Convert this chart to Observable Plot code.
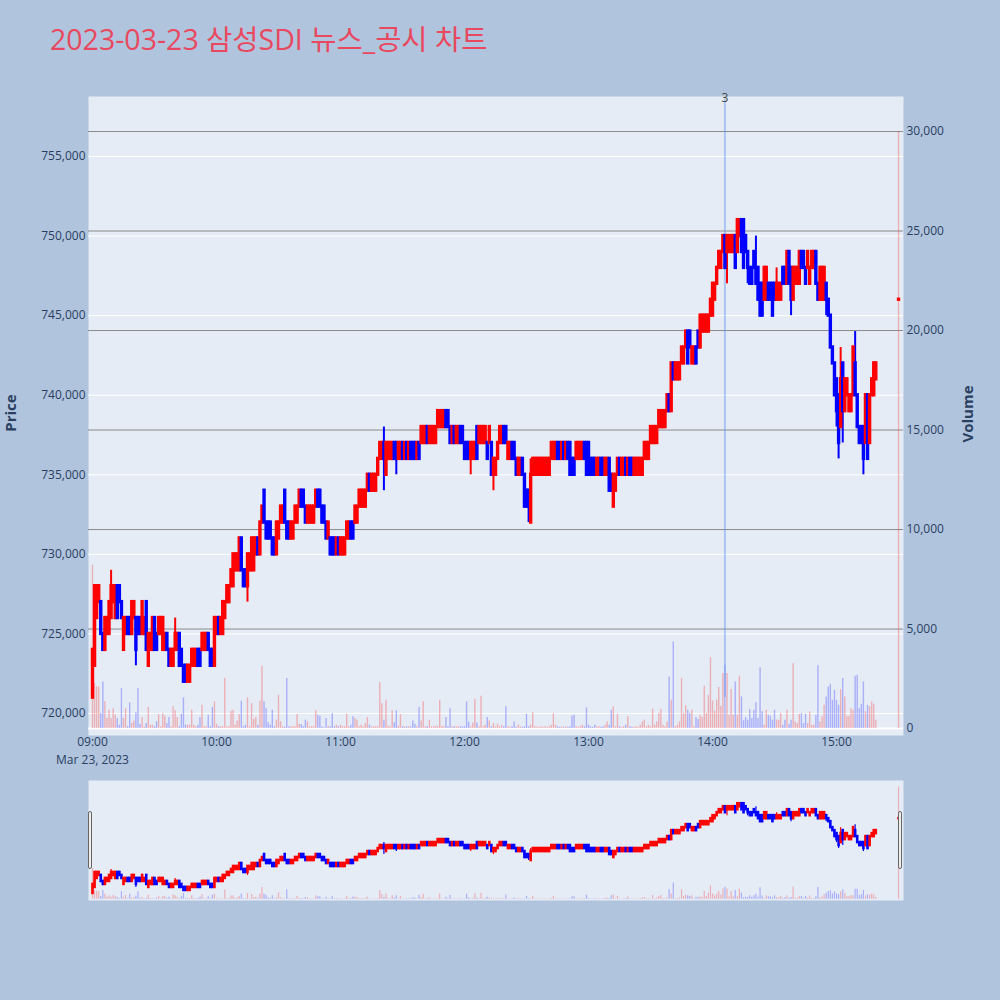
<!DOCTYPE html>
<html lang="ko">
<head>
<meta charset="utf-8">
<title>삼성SDI 뉴스_공시 차트</title>
<script src="https://cdn.jsdelivr.net/npm/d3@7"></script>
<script src="https://cdn.jsdelivr.net/npm/@observablehq/plot@0.6"></script>
<style>
html,body{margin:0;padding:0;background:#b0c4de;}
#chart{position:relative;width:1000px;height:1000px;background:#b0c4de;overflow:hidden;font-family:"Open Sans","Noto Sans CJK KR",sans-serif;}
#chart svg{position:absolute;left:0;}
#title{position:absolute;left:50px;top:25px;font-size:28.5px;line-height:29px;color:#e8495f;white-space:nowrap;}
.ytitle{position:absolute;font-size:15px;font-weight:bold;color:#2a3f5f;transform:translate(-50%,-50%) rotate(-90deg);white-space:nowrap;}
.grip{position:absolute;width:4px;height:58px;background:#eeeeee;border:1px solid #666;border-radius:2px;box-sizing:border-box;}
</style>
</head>
<body>
<div id="chart">
  <div id="title">2023-03-23 삼성SDI 뉴스_공시 차트</div>
</div>
<script>
// ---------------- data (prices in thousand KRW, one candle per minute from 09:00) ----------------
const sessionDate = [2023, 2, 23];
const sessionStart = [9, 0];
const closingAuctionTime = [15, 30];

const openK = [
721,723,726,727,727,725,724,725,725,726,
727,726,728,728,727,724,725,726,726,725,
726,726,726,726,725,725,727,723,724,724,
726,725,725,725,724,724,725,724,723,723,
724,724,725,724,723,723,722,722,723,723,
723,724,724,724,724,724,725,724,724,723,
725,726,725,725,726,727,727,728,728,729,
729,729,731,729,729,728,729,729,729,730,
731,730,732,734,732,732,732,731,731,730,
731,732,732,734,732,732,731,731,732,732,
733,734,734,733,732,732,732,732,733,734,
734,733,733,732,731,731,731,731,730,731,
730,730,730,731,731,732,732,732,732,733,
733,733,733,734,735,734,734,734,735,736,
736,737,735,736,736,736,737,737,736,736,
737,736,737,736,737,737,737,736,737,737,
737,737,738,737,737,737,737,738,738,738,
738,739,739,738,737,738,737,737,738,738,
737,737,737,736,736,736,738,737,737,737,
737,737,737,737,735,735,736,737,737,738,
738,736,736,737,737,736,735,735,736,735,
734,734,732,735,735,735,735,735,735,735,
735,735,736,736,736,737,737,736,737,736,
737,737,736,736,736,736,736,736,737,737,
737,736,736,736,735,735,736,736,735,735,
736,735,733,734,735,736,735,735,736,735,
736,736,735,735,735,735,735,736,736,736,
737,737,737,737,738,738,738,738,739,740,
739,742,741,741,741,742,742,743,744,744,
742,742,743,744,743,744,744,744,744,745,
745,746,747,748,748,749,750,749,749,749,
749,750,749,750,751,751,750,749,748,748,
749,748,748,747,747,746,746,747,747,747,
747,746,746,746,748,748,747,749,748,746,
747,747,747,749,749,748,748,747,748,748,
749,747,746,746,746,747,746,745,743,742,
741,740,738,742,739,740,739,739,740,742,
740,738,738,738,737,740,737,740,740,741,
746];
const closeK = [
724,728,728,728,725,724,726,726,727,728,
728,728,726,727,726,726,726,725,725,727,
727,724,725,725,727,726,724,725,725,726,
724,724,726,726,726,725,724,723,724,724,
725,725,723,723,722,722,723,723,724,724,
724,723,723,725,725,725,724,723,723,726,
726,725,726,727,727,728,728,729,730,730,
730,731,729,728,728,730,730,731,731,731,
730,732,733,732,731,731,731,730,730,732,
732,733,733,732,731,731,732,732,733,733,
734,733,733,732,733,733,733,733,734,733,
733,732,732,731,732,730,730,730,731,730,
731,731,731,732,732,731,731,733,733,734,
734,734,734,735,734,735,735,735,736,737,
737,736,737,737,737,737,736,736,737,737,
736,737,736,737,736,736,736,737,736,738,
738,738,737,738,738,738,738,739,739,739,
739,738,738,737,738,737,738,738,737,737,
736,736,736,737,737,737,736,738,738,738,
738,736,738,735,736,736,737,738,738,737,
737,737,737,736,736,735,736,736,735,733,
733,733,735,736,736,736,736,736,736,736,
736,736,737,737,737,736,736,737,736,737,
736,735,735,735,737,737,737,737,736,735,
735,735,735,735,736,736,735,735,736,736,
734,734,735,735,736,735,736,736,735,736,
735,735,736,736,736,736,736,737,737,737,
738,738,738,738,739,739,739,739,740,739,
742,741,742,742,742,743,743,744,742,743,
743,743,742,743,745,745,745,745,745,746,
747,747,748,749,749,750,748,750,750,750,
750,748,751,751,749,748,749,748,747,747,
748,747,746,745,745,748,748,746,746,745,
746,747,747,747,747,747,749,747,746,748,
748,748,749,748,748,747,749,748,749,749,
747,746,748,748,748,746,745,743,742,740,
739,737,741,739,741,741,740,740,743,740,
738,737,737,736,740,736,740,741,742,742,
746];
const highK = [
724,728,728,728,727,725,726,726,727,729,
728,728,728,728,727,726,726,726,726,727,
727,726,726,726,727,726,727,725,725,726,
726,725,726,726,726,725,725,724,724,724,
726,725,725,724,723,723,723,723,724,724,
724,724,724,725,725,725,725,724,724,726,
726,726,726,727,727,728,728,729,730,730,
730,731,731,729,729,730,730,731,731,731,
731,732,733,734,732,732,732,731,731,732,
732,733,733,734,732,732,732,732,733,733,
734,734,734,733,733,733,733,733,734,734,
734,733,733,732,732,731,731,731,731,731,
731,731,731,732,732,732,732,733,733,734,
734,734,734,735,735,735,735,735,736,737,
737,738,737,737,737,737,737,737,737,737,
737,737,737,737,737,737,737,737,737,738,
738,738,738,738,738,738,738,739,739,739,
739,739,739,738,738,738,738,738,738,738,
737,737,737,737,737,737,738,738,738,738,
738,737,738,737,736,736,737,738,738,738,
738,737,737,737,737,736,736,736,736,735,
734,734,736,736,736,736,736,736,736,736,
736,736,737,737,737,737,737,737,737,737,
737,737,736,736,737,737,737,737,737,737,
737,736,736,736,736,736,736,736,736,736,
736,735,735,735,736,736,736,736,736,736,
736,736,736,736,736,736,736,737,737,737,
738,738,738,738,739,739,739,739,740,740,
742,742,742,742,742,743,743,744,744,744,
743,743,743,744,745,745,745,745,745,746,
747,747,748,749,749,750,750,750,750,750,
750,750,751,751,751,751,750,749,748,748,
749,750,748,747,747,748,748,747,747,747,
747,748,747,747,748,748,749,749,748,748,
748,748,749,749,749,748,749,748,749,749,
749,747,748,748,748,747,746,745,743,742,
741,740,743,742,741,741,740,740,743,744,
740,738,738,738,740,740,740,741,742,742,
746];
const lowK = [
721,723,726,727,725,724,724,725,725,726,
727,726,726,727,726,724,725,725,725,725,
726,723,725,725,725,725,724,723,724,724,
724,724,725,725,724,724,724,723,723,723,
724,724,723,723,722,722,722,722,723,723,
723,723,723,724,724,724,724,723,723,723,
725,725,725,725,726,727,727,728,728,729,
729,729,729,728,728,727,729,729,729,730,
730,730,732,732,731,731,731,730,730,730,
731,732,732,732,731,731,731,731,732,732,
733,733,733,732,732,732,732,732,733,733,
733,732,732,731,731,730,730,730,730,730,
730,730,730,731,731,731,731,732,732,733,
733,733,733,734,734,734,734,734,735,736,
736,734,735,736,736,736,736,735,736,736,
736,736,736,736,736,736,736,736,736,737,
737,737,737,737,737,737,737,738,738,738,
738,738,738,737,737,737,737,737,737,737,
736,736,736,735,736,736,736,737,737,737,
737,736,737,735,734,735,736,737,737,737,
737,736,736,736,736,735,735,735,735,733,
733,732,732,735,735,735,735,735,735,735,
735,735,736,736,736,736,736,736,736,736,
736,735,735,735,736,736,736,736,736,735,
735,735,735,735,735,735,735,735,735,735,
734,734,733,734,735,735,735,735,735,735,
735,735,735,735,735,735,735,736,736,736,
737,737,737,737,738,738,738,738,739,739,
739,741,741,741,741,742,742,743,742,743,
742,742,742,743,743,744,744,744,744,745,
745,746,747,748,748,749,748,747,749,749,
749,748,749,750,749,748,749,747,747,747,
748,747,746,745,745,746,746,746,746,745,
746,746,746,746,747,747,747,747,745,746,
747,747,747,748,748,747,748,747,748,748,
747,746,746,746,746,745,745,743,742,740,
738,736,738,737,739,740,739,739,740,740,
738,737,737,735,737,736,737,740,740,741,
746];
const volumes = [
8200,2260,2100,2090,750,2340,1340,500,920,500,
1000,670,500,170,2010,500,1000,100,1290,250,
380,790,2010,220,550,90,250,1060,170,170,
90,340,700,90,750,620,250,550,90,1090,
890,550,90,720,1540,170,170,170,920,170,
90,170,550,1170,90,90,670,90,1060,1340,
220,90,90,90,2510,90,90,870,920,170,
380,700,1370,90,170,1540,90,1250,450,550,
170,1370,3130,1340,1000,290,170,920,90,420,
1670,340,90,60,2510,90,90,90,90,700,
200,200,90,420,340,90,90,90,890,670,
620,90,40,500,90,90,750,90,170,90,
170,90,90,720,90,170,590,500,420,90,
170,90,250,550,170,90,90,90,90,2310,
1250,420,1420,120,90,890,290,890,120,700,
90,90,90,90,90,380,220,90,1060,380,
1340,90,90,420,90,90,120,90,1420,120,
90,550,90,990,90,90,90,90,90,90,
90,1340,320,90,280,1470,280,90,1620,90,
170,550,380,90,250,90,220,90,170,90,
1090,90,60,90,330,60,170,90,60,90,
720,90,170,790,90,60,60,90,60,90,
60,90,170,750,170,90,60,90,60,90,
60,90,620,670,90,60,90,170,90,1040,
170,90,60,170,90,90,60,90,170,330,
170,920,1090,90,720,90,60,90,170,590,
90,60,60,90,60,170,330,420,90,170,
90,970,170,330,750,970,170,90,330,2590,
1420,4350,90,170,330,2510,750,1150,920,750,
920,90,550,450,670,550,2120,750,1670,3560,
1390,870,1420,2060,1120,2760,3180,2760,670,1960,
670,2340,670,2630,1590,390,550,420,950,500,
920,1290,500,3060,840,170,920,670,620,420,
920,420,420,750,170,420,920,220,420,3260,
330,250,720,750,250,720,250,840,170,170,
670,3150,330,590,1170,1590,2090,2230,1420,1920,
1420,1170,1960,2510,1590,620,620,1000,920,2630,
2680,1000,1220,2340,840,1170,1090,1340,1220,420,
30000];

// news/disclosure marker
const newsMarkers = [{hour: 14, minute: 6, label: "3"}];
const newsLineSpan = [721000, 758600];

// axis ticks
const priceTicks = [720000, 725000, 730000, 735000, 740000, 745000, 750000, 755000];
const volumeTicks = [0, 5000, 10000, 15000, 20000, 25000, 30000];
const hourTicks = ["09:00", "10:00", "11:00", "12:00", "13:00", "14:00", "15:00"];
const dateLabel = "Mar 23, 2023";

// ---------------- build ----------------
const utc = (h, m, s = 0) => new Date(Date.UTC(sessionDate[0], sessionDate[1], sessionDate[2], h, m, s));
const nSession = openK.length - 1;
const table = openK.map((o, i) => ({
  time: i < nSession ? utc(sessionStart[0], sessionStart[1] + i) : utc(closingAuctionTime[0], closingAuctionTime[1]),
  open: o * 1000, high: highK[i] * 1000, low: lowK[i] * 1000, close: closeK[i] * 1000,
  volume: volumes[i]
}));
const up = d => d.close >= d.open;
const candleColor = d => up(d) ? "#ff0000" : "#0000ff";
const volColor = d => up(d) ? "rgba(255,0,0,0.26)" : "rgba(0,0,255,0.26)";
const markers = newsMarkers.map(d => ({time: utc(d.hour, d.minute), label: d.label}));
const hourDates = hourTicks.map(s => utc(+s.slice(0, 2), +s.slice(3)));

const xDomain = [utc(8, 58, 4), utc(15, 32, 24)];
const priceDomain = [718620, 758770];
const volDomain = [-350, 31760];

const FONT = "'Open Sans', verdana, arial, sans-serif";
const TXT = "#2a3f5f";
const base = {
  width: 1000, height: 780, marginLeft: 88, marginRight: 97, marginTop: 96, marginBottom: 45,
  x: {type: "utc", domain: xDomain, axis: null},
  color: {type: "identity"},
  style: {background: "transparent", fontFamily: FONT, fontSize: "12px", color: TXT, overflow: "visible"}
};

const chart = document.getElementById("chart");
function add(svg, top) { svg.style.top = top + "px"; chart.appendChild(svg); }

// layer 1: price background, grid and axes
add(Plot.plot({
  ...base,
  y: {domain: priceDomain, axis: null},
  marks: [
    Plot.frame({fill: "#e5ecf6", stroke: null}),
    Plot.gridY(priceTicks, {stroke: "#ffffff", strokeOpacity: 1, strokeWidth: 1}),
    Plot.axisY(priceTicks, {anchor: "left", tickSize: 0, tickPadding: 3, tickFormat: d3.format(","), label: null, fill: TXT}),
    Plot.axisX(hourDates, {anchor: "bottom", tickSize: 0, tickPadding: 2, tickFormat: d3.utcFormat("%H:%M"), label: null, fill: TXT}),
    Plot.text([hourDates[0]], {x: d => d, text: () => dateLabel, frameAnchor: "bottom", dy: 28, fill: TXT, fontSize: 12})
  ]
}), 0);

// layer 2: volume grid, bars and right axis
add(Plot.plot({
  ...base,
  y: {domain: volDomain, axis: null},
  marks: [
    Plot.gridY(volumeTicks.filter(v => v > 0), {stroke: "#8c8c8c", strokeOpacity: 1, strokeWidth: 1}),
    Plot.ruleY([0], {stroke: "#ffffff", strokeWidth: 2}),
    Plot.ruleX(table, {x: "time", y1: 0, y2: "volume", stroke: volColor, strokeWidth: 1.4}),
    Plot.axisY(volumeTicks, {anchor: "right", tickSize: 0, tickPadding: 3, tickFormat: d3.format(","), label: null, fill: TXT})
  ]
}), 0);

// layer 3: news marker and candles
add(Plot.plot({
  ...base,
  y: {domain: priceDomain, axis: null},
  marks: [
    Plot.ruleX(markers, {x: "time", y1: newsLineSpan[0], y2: newsLineSpan[1], stroke: "rgb(100,149,237)", strokeOpacity: 0.45, strokeWidth: 2}),
    Plot.text(markers, {x: "time", text: "label", frameAnchor: "top", dy: -3, fill: "#444", fontSize: 12}),
    Plot.ruleX(table, {x: "time", y1: "low", y2: "high", stroke: candleColor, strokeWidth: 2}),
    Plot.ruleX(table, {x: "time", y1: "open", y2: "close", stroke: candleColor, strokeWidth: 3.4, strokeLinecap: "square"})
  ]
}), 0);

// range slider (mini overview)
const sBase = {...base, height: 120, marginTop: 0, marginBottom: 0};
add(Plot.plot({
  ...sBase,
  y: {domain: volDomain, axis: null},
  marks: [
    Plot.frame({fill: "#e5ecf6", stroke: null}),
    Plot.ruleX(table, {x: "time", y1: 0, y2: "volume", stroke: volColor, strokeWidth: 1.2})
  ]
}), 780);
add(Plot.plot({
  ...sBase,
  y: {domain: priceDomain, axis: null},
  marks: [
    Plot.ruleX(table, {x: "time", y1: "low", y2: "high", stroke: candleColor, strokeWidth: 1.2}),
    Plot.ruleX(table, {x: "time", y1: "open", y2: "close", stroke: candleColor, strokeWidth: 2.6, strokeLinecap: "square"})
  ]
}), 780);

// axis titles and slider grips (HTML decorations)
function div(cls, text, css) { const e = document.createElement("div"); e.className = cls; e.textContent = text; Object.assign(e.style, css); chart.appendChild(e); }
div("ytitle", "Price", {left: "10px", top: "413px"});
div("ytitle", "Volume", {left: "967px", top: "414px"});
div("grip", "", {left: "88px", top: "811px"});
div("grip", "", {left: "898px", top: "811px"});
</script>
</body>
</html>
